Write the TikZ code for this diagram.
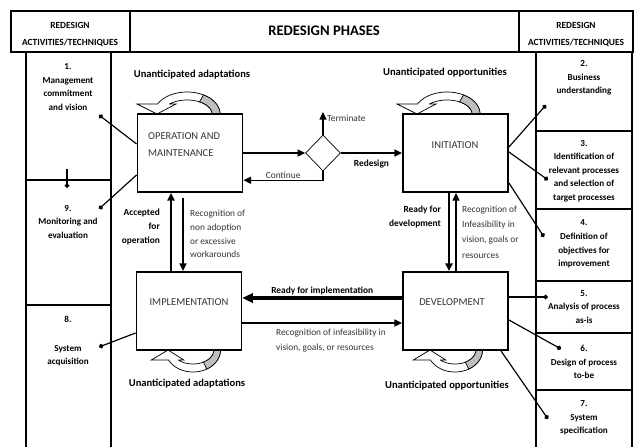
\documentclass[tikz,border=0pt]{standalone}
\usepackage{fontspec}
\setmainfont{Carlito}
\usetikzlibrary{arrows.meta,positioning,shapes.geometric}

% hollow circular arrow sitting on a box edge
% #1,#2 = point on the edge, #3 = x unit, #4 = y unit (negative: below the box)
\newcommand{\cyclearrow}[4]{%
  \begin{scope}[shift={(#1,#2)}, x=#3, y=#4, line width=0.6pt]
    \filldraw[fill=white]
      (33,0) -- plot[domain=0:153, samples=40] ({33*cos(\x)},{22*sin(\x)})
      -- (-50,10) -- (-30,0) -- (-11,10) -- (-17.4,10)
      -- plot[domain=134:0, samples=40] ({25*cos(\x)},{14*sin(\x)}) -- cycle;
    \filldraw[fill=black!25]
      (33,0) -- plot[domain=0:60, samples=20] ({33*cos(\x)},{22*sin(\x)})
      -- plot[domain=60:0, samples=20] ({25*cos(\x)},{14*sin(\x)}) -- cycle;
  \end{scope}}

\tikzset{
  tablerule/.style={line width=1.4pt},
  phase/.style={draw, line width=1.6pt, minimum width=3.15cm, minimum height=2.34cm},
  phasetext/.style={font=\fontsize{9}{14.5}\selectfont, text=black!80, align=left},
  head/.style={font=\bfseries\fontsize{8}{14.5}\selectfont, align=center},
  activity/.style={font=\bfseries\fontsize{7.8}{11.6}\selectfont, align=center},
  cyclelabel/.style={font=\bfseries\fontsize{9}{11}\selectfont},
  note/.style={font=\fontsize{8}{11.7}\selectfont, text=black!80, align=left},
  bnote/.style={font=\bfseries\fontsize{8}{11.7}\selectfont},
  flow/.style={-{Triangle[length=6.5pt,width=6pt]}, line width=1pt},
  tie/.style={-{Circle[length=4pt]}, line width=1pt},
}

\begin{document}
\begin{tikzpicture}[x=0.03cm, y=-0.03cm]
  \useasboundingbox (0,0) rectangle (636,447);

  % table
  \draw[tablerule] (11,11) rectangle (633,52);
  \draw[tablerule] (130,11) -- (130,52) (519,11) -- (519,52);
  \draw[tablerule] (26,52) -- (26,447) (111,52) -- (111,447);
  \draw[tablerule] (26,180) -- (111,180) (26,305) -- (111,305);
  \draw[tablerule] (536,52) -- (536,447) (632,52) -- (632,447);
  \foreach \y in {131,209,281,333,390}
    \draw[tablerule] (536,\y) -- (632,\y);

  \node[head] (lefthead) at (70,35) {REDESIGN\\ACTIVITIES/TECHNIQUES};
  \node[head] (righthead) at (576,35) {REDESIGN\\ACTIVITIES/TECHNIQUES};
  \node[font=\bfseries\fontsize{12.5}{15}\selectfont] (phases) at (324,31) {REDESIGN PHASES};

  % activities
  \node[activity] (act1) at (68,87) {1.\\Management\\commitment\\and vision};
  \node[activity] (act9) at (68,222) {9.\\Monitoring and\\evaluation};
  \node[activity] (act8) at (68,341) {8.\\[13pt]System\\acquisition};
  \node[activity] (act2) at (584,78) {2.\\Business\\understanding};
  \node[activity] (act3) at (584,171) {3.\\Identification of\\relevant processes\\and selection of\\target processes};
  \node[activity] (act4) at (584,244) {4.\\Definition of\\objectives for\\improvement};
  \node[activity] (act5) at (584,307) {5.\\Analysis of process\\as-is};
  \node[activity] (act6) at (584,362) {6.\\Design of process\\to-be};
  \node[activity] (act7) at (584,418) {7.\\System\\specification};

  % loops on the phases
  \cyclearrow{187}{114}{0.03cm}{0.03cm}
  \cyclearrow{447}{114}{0.03cm}{0.03cm}
  \cyclearrow{193}{350}{0.025cm}{-0.03cm}
  \cyclearrow{455}{350}{0.025cm}{-0.03cm}
  \node[cyclelabel] (opcycle) at (192,75) {Unanticipated adaptations};
  \node[cyclelabel] (initcycle) at (445,73) {Unanticipated opportunities};
  \node[cyclelabel] (implcycle) at (187,384) {Unanticipated adaptations};
  \node[cyclelabel] (devcycle) at (447,386) {Unanticipated opportunities};

  % phases
  \node[phase] (op) at (190,153) {};
  \node[phase] (init) at (455.5,153) {};
  \node[phase] (impl) at (189,311) {};
  \node[phase] (dev) at (455.5,311) {};
  \node[phasetext, anchor=west] (optext) at (144,145) {OPERATION AND\\MAINTENANCE};
  \node[phasetext] (inittext) at (455,145) {INITIATION};
  \node[phasetext] (impltext) at (189,302) {IMPLEMENTATION};
  \node[phasetext] (devtext) at (452,302) {DEVELOPMENT};

  % decision
  \node[draw, diamond, minimum width=1.05cm, minimum height=1.08cm, inner sep=0pt, line width=0.6pt] (dia) at (323,153) {};
  \coordinate (term) at (323,112);
  \draw[flow, line width=1.2pt] (op.east) -- (dia.west);
  \draw[flow] (dia.north) -- (term);
  \node[note, anchor=west, inner sep=0pt] (termlabel) at (327,118) {Terminate};
  \draw[flow] (dia.south) |- (op.333) node[note, pos=0.75, above, inner sep=1pt] (contlabel) {Continue};
  \draw[flow, line width=1.2pt] (dia.east) -- (init.west) node[bnote, midway, below=2pt] (redesignlabel) {Redesign};

  % between phases
  \draw[flow, line width=1.6pt] (impl.north -| 171,0) -- (op.south -| 171,0);
  \draw[flow, shorten <=4pt] (op.south -| 183,0) -- (impl.north -| 183,0);
  \node[bnote, anchor=east, align=right] (acclabel) at (164,227) {Accepted\\for\\operation};
  \node[note, anchor=west] (nonadoptlabel) at (186,234) {Recognition of\\non adoption\\or excessive\\workarounds};

  \draw[flow, line width=1.6pt] (init.south -| 449,0) -- (dev.north -| 449,0);
  \draw[flow] (dev.north -| 456,0) -- (init.south -| 456,0);
  \node[bnote, anchor=east, align=right] (readydevlabel) at (445,217) {Ready for\\development};
  \node[note, anchor=west, font=\fontsize{8}{13.2}\selectfont] (infeaslabel) at (458,232) {Recognition of\\Infeasibility in\\vision, goals or\\resources};

  \draw[-{Triangle[length=9pt,width=8pt]}, line width=2.6pt] (dev.west |- 0,298) -- (impl.east |- 0,298)
    node[bnote, midway, above, inner sep=1pt] (readyimpllabel) {Ready for implementation};
  \draw[flow] (impl.east |- 0,323) -- (dev.west |- 0,323);
  \node[note, anchor=west, font=\fontsize{8}{12.8}\selectfont] (infeasimpllabel) at (272,341) {Recognition of infeasibility in\\vision, goals, or resources};

  % ties to activities
  \coordinate (d1) at (99,115);
  \coordinate (d9) at (99,209);
  \coordinate (d9top) at (67,169);
  \coordinate (d9tick) at (67,188);
  \coordinate (d8) at (99,347);
  \coordinate (d2) at (546,105);
  \coordinate (d3) at (548,180);
  \coordinate (d4) at (544,237);
  \coordinate (d5) at (548,297);
  \coordinate (d6) at (561,349);
  \coordinate (d7) at (548,419);
  \draw[tie] (op.west |- 0,144) -- (d1);
  \draw[tie] (op.west |- 0,175) -- (d9);
  \draw[tie] (d9top) -- (d9tick);
  \draw[tie] (impl.west |- 0,333) -- (d8);
  \draw[tie] (init.east |- 0,147) -- (d2);
  \draw[tie] (init.east |- 0,152) -- (d3);
  \draw[tie] (init.east |- 0,183) -- (d4);
  \draw[tie] (dev.east |- 0,297) -- (d5);
  \draw[tie] (dev.east |- 0,320) -- (d6);
  \draw[tie] (dev.south -| 501,0) -- (d7);
\end{tikzpicture}
\end{document}
